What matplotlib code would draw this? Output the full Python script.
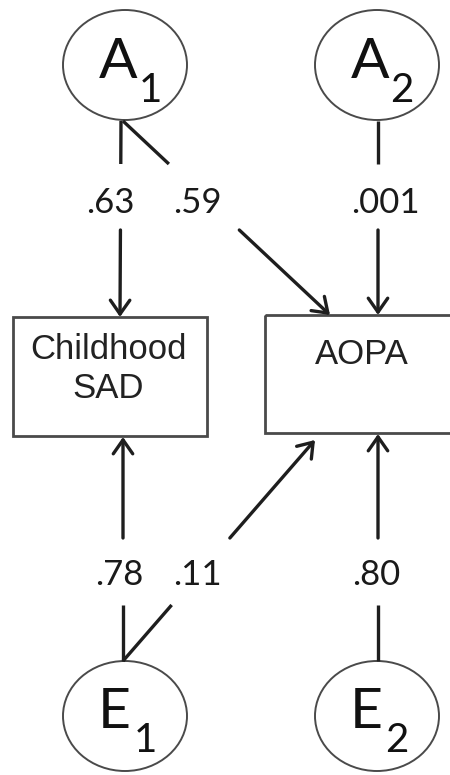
import matplotlib
matplotlib.use('Agg')
import matplotlib.pyplot as plt
from matplotlib.patches import Ellipse, Rectangle, FancyArrowPatch

# latent factors (letter, subscript)
latent_names = ['A', 'A', 'E', 'E']
latent_subs = ['1', '2', '1', '2']
# observed variables
observed = ['Childhood\nSAD', 'AOPA']
# paths: from latent index -> observed index, standardised coefficient
path_from = [0, 0, 1, 2, 2, 3]
path_to = [0, 1, 1, 0, 1, 1]
path_coef = ['.63', '.59', '.001', '.78', '.11', '.80']

line_col = '#1e1e1e'
edge_col = '#4a4a4a'
num_font = ['Lato', 'DejaVu Sans']
box_font = ['Liberation Sans', 'DejaVu Sans']

# layout (pixel coordinates, y downwards)
ell_xy = [(125, 65), (377, 65), (125, 716), (377, 716)]
ell_w, ell_h = 124, 110
box_xywh = [(13, 317, 194, 119), (265, 315, 200, 118)]
# start point of each path and arrow tip on the box
path_start = [(121, 121), (123, 121), (378, 121), (123, 661), (123, 661), (378, 661)]
path_tip = [(120, 317), (330, 315), (378, 315), (123, 437), (315, 440), (378, 434)]
# y where each line breaks around its label
gap_top = [(164, 230), (164, 230), (164, 230), (605, 538), (605, 538), (605, 538)]
label_xy = [(110, 203), (197, 203), (385, 203), (119, 575), (197, 575), (376, 575)]

fig = plt.figure(figsize=(4.5, 7.75), dpi=100)
ax = fig.add_axes([0, 0, 1, 1])
ax.set_xlim(0, 450)
ax.set_ylim(775, 0)
ax.axis('off')

# latent circles
for i, (cx, cy) in enumerate(ell_xy):
    ax.add_patch(Ellipse((cx, cy), ell_w, ell_h, fill=False, ec=edge_col, lw=1.4))
    ax.text(cx - 7 if i < 2 else cx - 11, cy - 3, latent_names[i], fontsize=41,
            family=num_font, ha='center', va='center', color='#111111')
    ax.text(cx + 25 if i < 2 else cx + 20, cy + 25, latent_subs[i], fontsize=29,
            family=num_font, ha='center', va='center', color='#111111')

# observed boxes
for (x, y, w, h), name in zip(box_xywh, observed):
    ax.add_patch(Rectangle((x, y), w, h, fill=False, ec=edge_col, lw=2))
text_pos = [(108, 369), (362, 355)]
for (tx, ty), name in zip(text_pos, observed):
    ax.text(tx, ty, name, fontsize=25, family=box_font, ha='center', va='center',
            color='#222222', linespacing=1.2)

# paths
for k in range(len(path_coef)):
    x0, y0 = path_start[k]
    x1, y1 = path_tip[k]
    ya, yb = gap_top[k]
    ta = (ya - y0) / (y1 - y0)
    tb = (yb - y0) / (y1 - y0)
    xa = x0 + ta * (x1 - x0)
    xb = x0 + tb * (x1 - x0)
    ax.plot([x0, xa], [y0, ya], color=line_col, lw=2.4, solid_capstyle='butt')
    ax.add_patch(FancyArrowPatch((xb, yb), (x1, y1),
                                 arrowstyle='->,head_length=10,head_width=7',
                                 mutation_scale=1, color=line_col, lw=2.4,
                                 shrinkA=0, shrinkB=0))
    lx, ly = label_xy[k]
    ax.text(lx, ly, path_coef[k], fontsize=25, family=num_font,
            ha='center', va='center', color='#1a1a1a')

fig.savefig('out.png', dpi=100)
